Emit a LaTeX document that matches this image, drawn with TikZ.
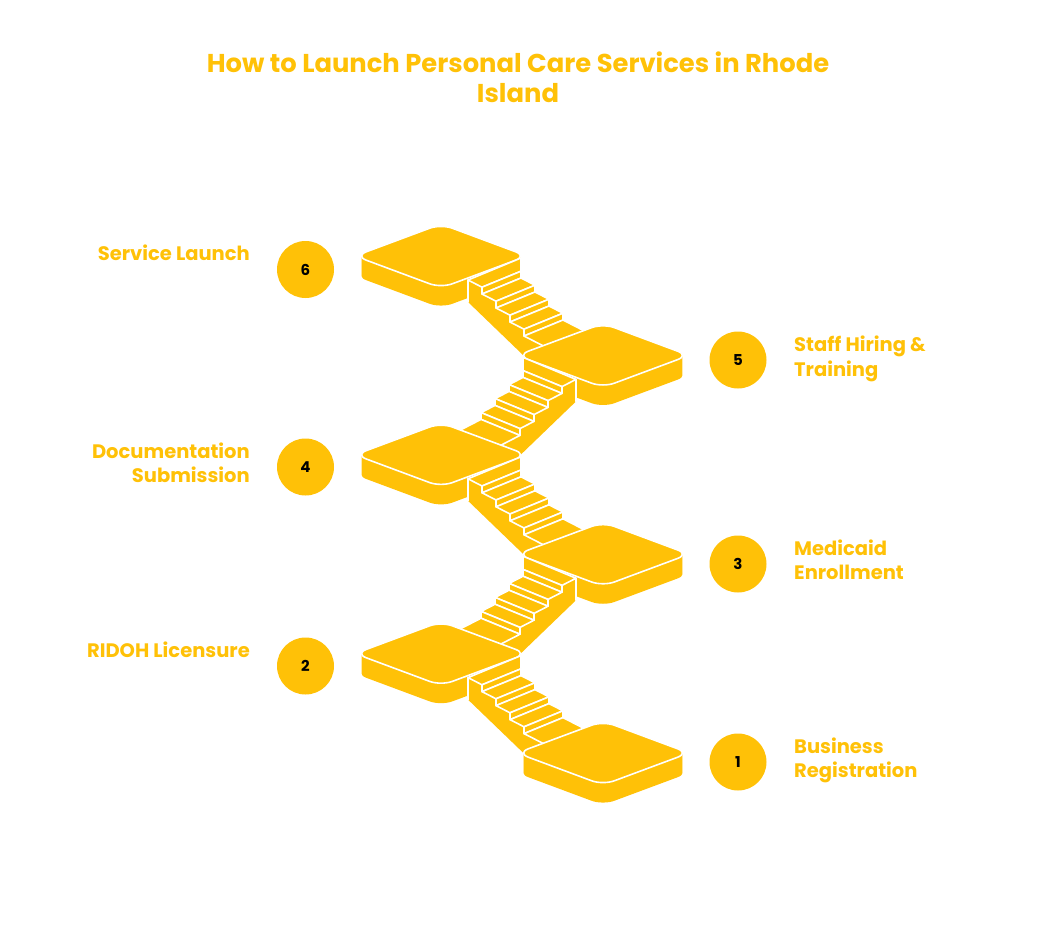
\documentclass[tikz,border=0pt]{standalone}
\usepackage{fontspec}
\setmainfont{Poppins}
\definecolor{amb}{RGB}{255,193,7}
\newcommand{\lbltwo}[3]{\begin{tabular}[t]{@{}#1@{}}#2\\#3\end{tabular}}
\tikzset{
  wl/.style={white, line width=1.6pt, line join=round, line cap=round},
  stepface/.style={fill=amb, draw=white, line width=1.6pt, line join=round},
  circ/.style={circle, fill=amb, minimum size=57pt, inner sep=0pt, text=black,
    font=\fontsize{15}{15}\selectfont\bfseries},
  lab/.style={inner sep=0pt, text=amb, font=\fontsize{19.5}{24.3}\selectfont\bfseries},
  ttl/.style={inner sep=0pt, text=amb, font=\fontsize{25.8}{30.3}\selectfont\bfseries},
}
\newcommand{\slabat}[2]{%
  \begin{scope}[shift={(#1,#2)}]
    \foreach \d in {0,1,...,20}{%
      \fill[amb, rounded corners=12pt] (-86,\d) -- (0,\d-32) -- (86,\d) -- (0,\d+32) -- cycle;}
    \filldraw[amb, draw=white, line width=1.6pt, rounded corners=12pt]
      (-86,0) -- (0,-32) -- (86,0) -- (0,32) -- cycle;
  \end{scope}}
\newcommand{\stairat}[3]{%
  \begin{scope}[shift={(#1,#2)}, xscale=#3]
    \fill[amb] (27,24) -- (27,46) -- (82,99) -- (111,94.4) -- (83,80) -- (83,73.2)
      -- (69,66) -- (69,59.2) -- (55,52) -- (55,45.2) -- (41,38) -- (41,31.2) -- cycle;
    \draw[wl] (27,24) -- (27,46);
    \path[stepface] (27,24) -- (41,31.2) -- (80,15.2) -- (80,2) -- cycle;
    \path[stepface] (41,31.2) -- (41,38) -- (80,22) -- (80,15.2) -- cycle;
    \path[stepface] (41,38) -- (55,45.2) -- (94,29.2) -- (80,22) -- cycle;
    \path[stepface] (55,45.2) -- (55,52) -- (94,36) -- (94,29.2) -- cycle;
    \path[stepface] (55,52) -- (69,59.2) -- (108,43.2) -- (94,36) -- cycle;
    \path[stepface] (69,59.2) -- (69,66) -- (108,50) -- (108,43.2) -- cycle;
    \path[stepface] (69,66) -- (83,73.2) -- (122,57.2) -- (108,50) -- cycle;
    \path[stepface] (83,73.2) -- (83,80) -- (122,64) -- (122,57.2) -- cycle;
    \path[stepface] (83,80) -- (111,94.4) -- (150,78.4) -- (122,64) -- cycle;
  \end{scope}}
\begin{document}
\begin{tikzpicture}[x=1pt, y=-1pt]
  \useasboundingbox (0,0) rectangle (1044,936);
  \fill[white] (0,0) rectangle (1044,936);
  % platforms and stairs, back to front
  \slabat{441}{256}
  \stairat{441}{256}{1}
  \slabat{603}{355.4}
  \stairat{603}{355.4}{-1}
  \slabat{441}{454.8}
  \stairat{441}{454.8}{1}
  \slabat{603}{554.2}
  \stairat{603}{554.2}{-1}
  \slabat{441}{653.6}
  \stairat{441}{653.6}{1}
  \slabat{603}{753}
  % title
  \node[ttl, anchor=base] (title) at (518,72.7)
    {\lbltwo{c}{How to Launch Personal Care Services in Rhode}{Island}};
  % number circles
  \node[circ] (c6) at (305.5,269.5) {6};
  \node[circ] (c4) at (305.5,467) {4};
  \node[circ] (c2) at (305.5,666) {2};
  \node[circ] (c5) at (738,360) {5};
  \node[circ] (c3) at (738,564) {3};
  \node[circ] (c1) at (738,762) {1};
  % labels
  \node[lab, anchor=base east] (l6) at (250,260.7) {Service Launch};
  \node[lab, anchor=base east] (l4) at (250,458) {\lbltwo{r}{Documentation}{Submission}};
  \node[lab, anchor=base east] (l2) at (250,657) {RIDOH Licensure};
  \node[lab, anchor=base west] (l5) at (794,351.7) {\lbltwo{l}{Staff Hiring \&}{Training}};
  \node[lab, anchor=base west] (l3) at (794,555) {\lbltwo{l}{Medicaid}{Enrollment}};
  \node[lab, anchor=base west] (l1) at (794,753) {\lbltwo{l}{Business}{Registration}};
\end{tikzpicture}
\end{document}
